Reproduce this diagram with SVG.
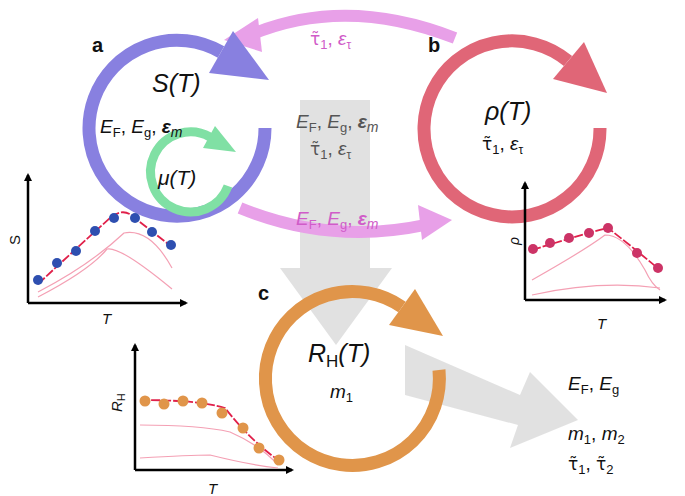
<svg xmlns="http://www.w3.org/2000/svg" width="685" height="496" viewBox="0 0 685 496">
<style>
text{font-family:"Liberation Sans",Arial,sans-serif;fill:#111}
.t{font-family:"DejaVu Sans",sans-serif}
.lbl{font-size:25px;font-style:italic}
.par{font-size:19px}
.pk{fill:#d05cc8}
.gr{fill:#555}
.ax{stroke:#000;stroke-width:2.5;fill:none;marker-end:url(#ah)}
.fit{stroke:#e0204a;stroke-width:1.8;fill:none;stroke-dasharray:9 2}
.thin{stroke:#f4a0b4;stroke-width:1.2;fill:none}
.bold{font-size:20px;font-weight:bold}
</style>
<defs>
<marker id="ah" markerWidth="8" markerHeight="8" refX="6" refY="4" orient="auto" markerUnits="userSpaceOnUse"><path d="M0,0L8,4L0,8Z" fill="#000"/></marker>
</defs>
<g id="connectors">
<path d="M300,100H370V268H392L336,345L280,268H300Z" fill="#dcdcdc" opacity="0.85"/>
<path d="M405,345L520,395L530,372L578,420L510,448L518,425L405,395Z" fill="#dcdcdc" opacity="0.85"/>
<path d="M455,38Q345,-5 250,35" stroke="#e8a0e8" stroke-width="12" fill="none"/>
<path d="M224,40L258,18L262,52Z" fill="#e8a0e8"/>
<path d="M240,208Q330,245 425,225" stroke="#e8a0e8" stroke-width="12" fill="none"/>
<path d="M452,220L418,205L422,240Z" fill="#e8a0e8"/>
</g>
<g id="nodeA">
<path d="M265,128A88,88 0 1 1 221,52" stroke="#8880e0" stroke-width="13" fill="none"/>
<path d="M269,80L233,31L209,73Z" fill="#8880e0"/>
<path d="M228,186A40,40 0 1 1 210,137" stroke="#80e0a4" stroke-width="9" fill="none"/>
<path d="M236,152L215,126L203,148Z" fill="#80e0a4"/>
<text x="92" y="52" class="bold">a</text>
<text x="152" y="92" class="lbl">S(T)</text>
<text x="100" y="133" class="par"><tspan font-style="italic">E</tspan><tspan font-size="13" dy="4">F</tspan><tspan dy="-4">, </tspan><tspan font-style="italic">E</tspan><tspan font-size="13" dy="4">g</tspan><tspan dy="-4">, </tspan><tspan font-style="italic" font-weight="bold">ε</tspan><tspan font-style="italic" font-size="14" dy="4">m</tspan></text>
<text x="158" y="185" font-size="21" font-style="italic">μ(T)</text>
</g>
<g id="nodeB">
<path d="M600,128A88,88 0 1 1 568,61" stroke="#e06677" stroke-width="13" fill="none"/>
<path d="M607,93L584,42L553,79Z" fill="#e06677"/>
<text x="428" y="52" class="bold">b</text>
<text x="485" y="120" class="lbl">ρ(T)</text>
<text x="482" y="150" class="par"><tspan class="t" font-size="17">τ̃</tspan><tspan font-size="13" dy="4">1</tspan><tspan dy="-4">, </tspan><tspan font-style="italic">ε</tspan><tspan font-size="12" dy="4">τ</tspan></text>
</g>
<g id="nodeC">
<path d="M439,370A87,87 0 1 1 402,307" stroke="#e0954a" stroke-width="13" fill="none"/>
<path d="M443,336L415,289L389,325Z" fill="#e0954a"/>
<text x="258" y="300" class="bold">c</text>
<text x="308" y="362" class="lbl">R<tspan font-size="17" dy="5" font-style="normal">H</tspan><tspan dy="-5">(T)</tspan></text>
<text x="330" y="398" class="par" font-style="italic">m<tspan font-style="normal" font-size="13" dy="4">1</tspan></text>
</g>
<g id="centerText">
<text x="296" y="128" class="par gr"><tspan font-style="italic">E</tspan><tspan font-size="13" dy="4">F</tspan><tspan dy="-4">, </tspan><tspan font-style="italic">E</tspan><tspan font-size="13" dy="4">g</tspan><tspan dy="-4">, </tspan><tspan font-style="italic" font-weight="bold">ε</tspan><tspan font-style="italic" font-size="14" dy="4">m</tspan></text>
<text x="310" y="155" class="par gr"><tspan class="t" font-size="17">τ̃</tspan><tspan font-size="13" dy="4">1</tspan><tspan dy="-4">, </tspan><tspan font-style="italic">ε</tspan><tspan font-size="12" dy="4">τ</tspan></text>
<text x="310" y="45" class="par pk"><tspan class="t" font-size="17">τ̃</tspan><tspan font-size="13" dy="4">1</tspan><tspan dy="-4">, </tspan><tspan font-style="italic">ε</tspan><tspan font-size="12" dy="4">τ</tspan></text>
<text x="296" y="225" class="par pk"><tspan font-style="italic">E</tspan><tspan font-size="13" dy="4">F</tspan><tspan dy="-4">, </tspan><tspan font-style="italic">E</tspan><tspan font-size="13" dy="4">g</tspan><tspan dy="-4">, </tspan><tspan font-style="italic" font-weight="bold">ε</tspan><tspan font-style="italic" font-size="14" dy="4">m</tspan></text>
</g>
<g id="result">
<text x="568" y="390" class="par"><tspan font-style="italic">E</tspan><tspan font-size="13" dy="4">F</tspan><tspan dy="-4">, </tspan><tspan font-style="italic">E</tspan><tspan font-size="13" dy="4">g</tspan></text>
<text x="568" y="440" class="par"><tspan font-style="italic">m</tspan><tspan font-size="13" dy="4">1</tspan><tspan dy="-4">, </tspan><tspan font-style="italic">m</tspan><tspan font-size="13" dy="4">2</tspan></text>
<text x="568" y="470" class="par"><tspan class="t" font-size="17">τ̃</tspan><tspan font-size="13" dy="4">1</tspan><tspan dy="-4">, </tspan><tspan class="t" font-size="17">τ̃</tspan><tspan font-size="13" dy="4">2</tspan></text>
</g>
<g id="plotS">
<path class="ax" d="M28,303V175"/><path class="ax" d="M28,303H186"/>
<text x="20" y="245" font-size="15" transform="rotate(-90 20 245)">S</text>
<text x="102" y="324" font-size="15" font-style="italic">T</text>
<path class="thin" d="M38,292Q90,265 124,233Q150,228 172,268"/>
<path class="thin" d="M38,297Q90,270 107,249Q120,246 172,289"/>
<path class="fit" d="M38,284Q80,245 110,218Q124,206 136,219L172,247"/>
<g fill="#2e4fb0"><circle cx="38" cy="280" r="5"/><circle cx="57" cy="263" r="5"/><circle cx="76" cy="251" r="5"/><circle cx="95" cy="231" r="5"/><circle cx="114" cy="218" r="5"/><circle cx="135" cy="218" r="5"/><circle cx="152" cy="232" r="5"/><circle cx="171" cy="245" r="5"/></g>
</g>
<g id="plotRho">
<path class="ax" d="M525,300V183"/><path class="ax" d="M525,300H665"/>
<text x="519" y="245" font-size="14" font-style="italic" transform="rotate(-90 519 245)">ρ</text>
<text x="597" y="329" font-size="15" font-style="italic">T</text>
<path class="thin" d="M532,280Q585,250 605,235Q625,235 645,270Q652,285 660,290"/>
<path class="thin" d="M532,295Q600,280 660,288"/>
<path class="fit" d="M532,250Q590,232 608,228Q630,245 660,270"/>
<g fill="#cc3366"><circle cx="533" cy="249" r="5"/><circle cx="550" cy="243" r="5"/><circle cx="569" cy="238" r="5"/><circle cx="589" cy="233" r="5"/><circle cx="608" cy="228" r="5"/><circle cx="637" cy="253" r="5"/><circle cx="658" cy="268" r="5"/></g>
</g>
<g id="plotRH">
<path class="ax" d="M135,470V345"/><path class="ax" d="M135,470H292"/>
<text x="122" y="412" font-size="15" font-style="italic" transform="rotate(-90 122 412)">R<tspan font-size="11" font-style="normal" dy="3">H</tspan></text>
<text x="208" y="494" font-size="15" font-style="italic">T</text>
<path class="thin" d="M140,425Q200,425 230,432Q260,445 278,465"/>
<path class="thin" d="M140,458Q190,455 210,455Q250,465 278,468"/>
<path class="fit" d="M140,400Q200,400 225,408Q250,440 278,460"/>
<g fill="#e0954a"><circle cx="145" cy="401" r="5.5"/><circle cx="164" cy="404" r="5.5"/><circle cx="183" cy="401" r="5.5"/><circle cx="202" cy="403" r="5.5"/><circle cx="222" cy="413" r="5.5"/><circle cx="243" cy="428" r="5.5"/><circle cx="259" cy="448" r="5.5"/><circle cx="279" cy="460" r="5.5"/></g>
</g>
</svg>
